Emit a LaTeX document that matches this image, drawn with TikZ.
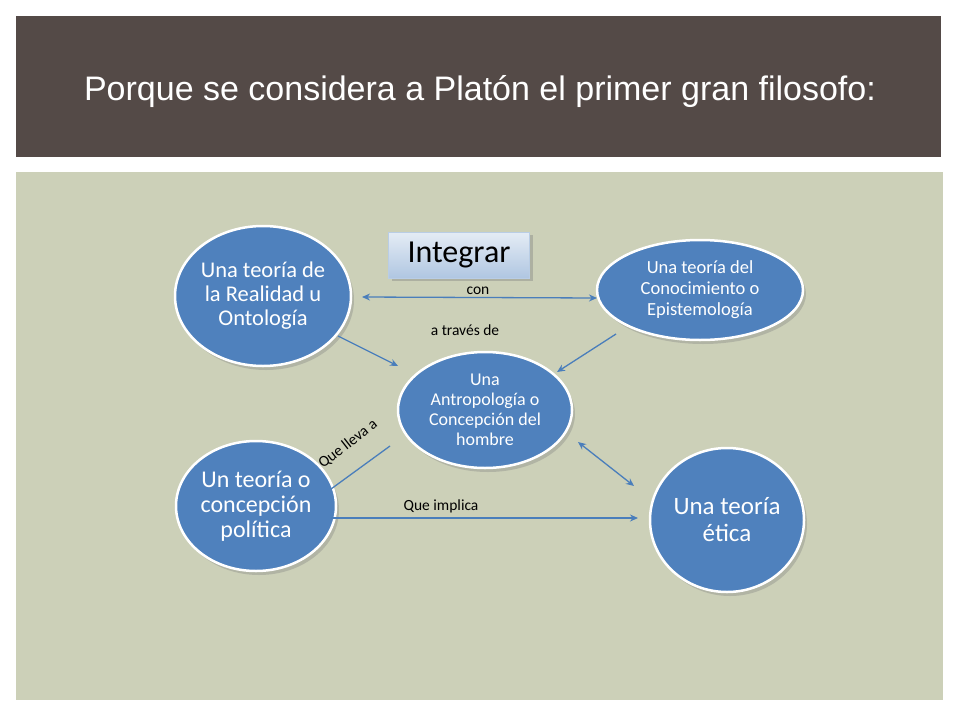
\documentclass[tikz,border=0pt]{standalone}
\usepackage{fontspec}
\setmainfont{Carlito}
\newfontfamily\titlefont{Liberation Sans}
\usetikzlibrary{shapes.geometric,shadows,arrows.meta}
\definecolor{hdr}{HTML}{544A47}
\definecolor{pan}{HTML}{CCD0B8}
\definecolor{ell}{HTML}{4F81BD}
\definecolor{arr}{HTML}{4A7EBB}
\tikzset{
 bub/.style={ellipse,draw=white,line width=2.5pt,fill=ell,text=white,align=center,inner sep=0pt,
   drop shadow={shadow xshift=3pt,shadow yshift=-4pt,opacity=0.35}},
 conn/.style={draw=arr,line width=1.3pt,-{Stealth[length=8pt,width=7pt]}},
 lbl/.style={font=\fontsize{15.5}{18}\selectfont,text=black}
}
\begin{document}
\begin{tikzpicture}[x=1pt,y=-1pt]
\useasboundingbox (0,0) rectangle (960,720);
\fill[white] (0,0) rectangle (960,720);
\fill[hdr] (16,16) rectangle (941,157);
\node[text=white,font=\titlefont\fontsize{34}{38}\selectfont] (title) at (480,92) {Porque se considera a Platón el primer gran filosofo:};
\fill[pan] (16,172) rectangle (943,700);
\node[bub,minimum width=176pt,minimum height=140pt,font=\fontsize{22.5}{24}\selectfont] (A) at (263,296) {Una teoría de\\la Realidad u\\Ontología};
\node[bub,minimum width=206pt,minimum height=100pt,font=\fontsize{18.5}{21}\selectfont] (B) at (700,290) {Una teoría del\\Conocimiento o\\Epistemología};
\node[bub,minimum width=174pt,minimum height=116pt,font=\fontsize{18}{20}\selectfont] (C) at (485,410) {Una\\Antropología o\\Concepción del\\hombre};
\node[bub,minimum width=160pt,minimum height=130pt,font=\fontsize{24}{25}\selectfont] (D) at (256,506) {Un teoría o\\concepción\\política};
\node[bub,minimum width=154pt,minimum height=144pt,font=\fontsize{25}{27}\selectfont] (E) at (727,520) {Una teoría\\ética};
\node[draw=white!60!ell,line width=1pt,top color=white!85!ell,bottom color=white!55!ell,minimum width=141pt,minimum height=46pt,font=\fontsize{32}{34}\selectfont,
  drop shadow={shadow xshift=3pt,shadow yshift=-3pt,opacity=0.4}] (I) at (459,255) {Integrar};
\coordinate (a1) at (362,297); \coordinate (b1) at (597,298);
\draw[conn,{Stealth[length=8pt,width=7pt]}-{Stealth[length=8pt,width=7pt]}] (a1) -- (b1);
\node[lbl] (con) at (478,291) {con};
\node[lbl] (at) at (465,330) {a través de};
\coordinate (a2) at (338,336); \coordinate (c1) at (398,366);
\draw[conn] (a2) -- (c1);
\coordinate (b2) at (616,334); \coordinate (c2) at (557,372);
\draw[conn] (b2) -- (c2);
\coordinate (c3) at (578,442); \coordinate (e1) at (634,486);
\draw[conn,{Stealth[length=8pt,width=7pt]}-{Stealth[length=8pt,width=7pt]}] (c3) -- (e1);
\coordinate (c4) at (390,446); \coordinate (d1) at (331,489);
\draw[draw=arr,line width=1.3pt] (c4) -- (d1);
\node[lbl,rotate=38] (ql) at (348,444) {Que lleva a};
\coordinate (d2) at (331,518); \coordinate (e2) at (638,518);
\draw[conn] (d2) -- (e2);
\node[lbl] (qi) at (441,506) {Que implica};
\end{tikzpicture}
\end{document}
